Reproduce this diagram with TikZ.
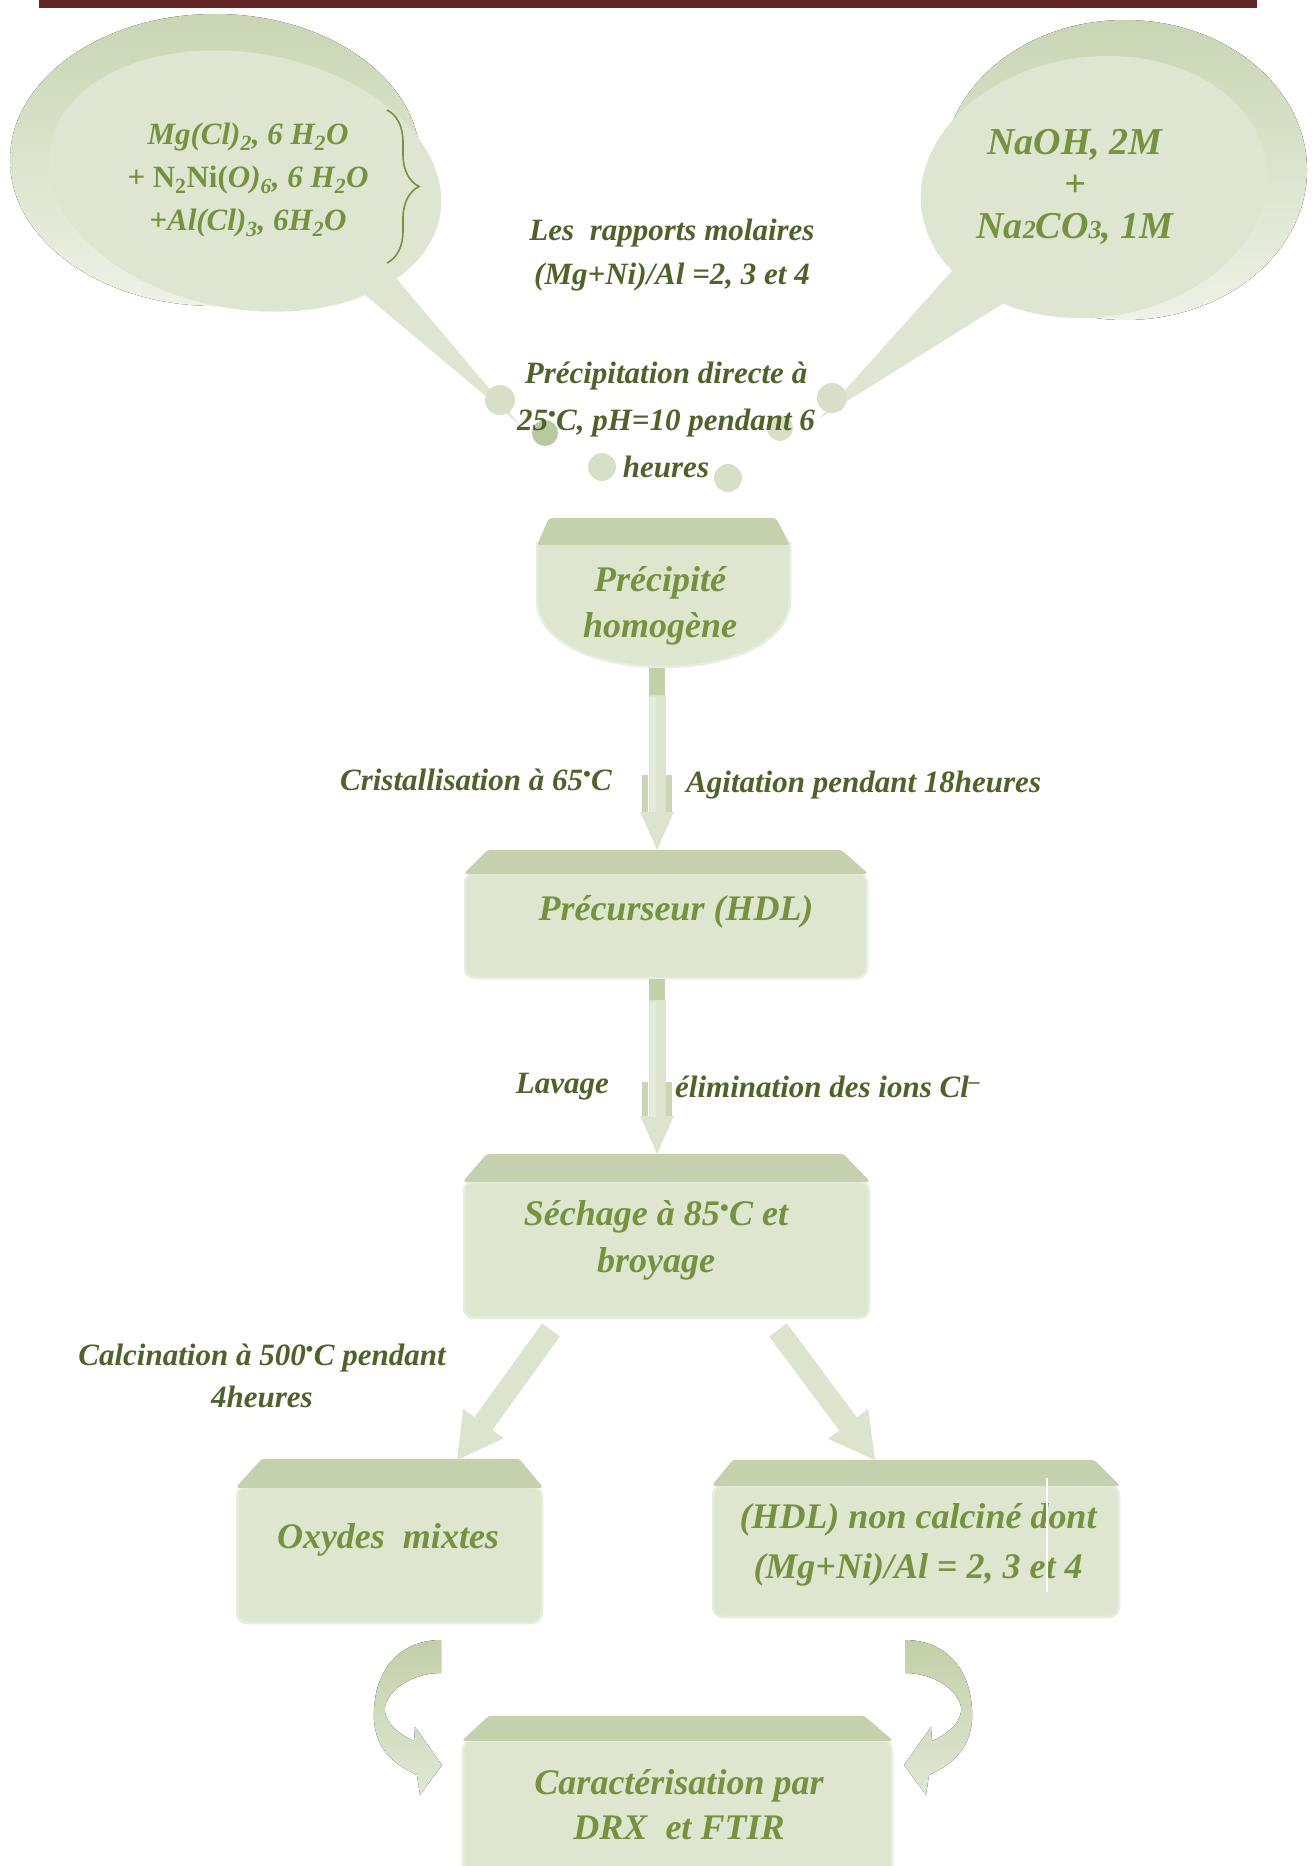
\documentclass[tikz,border=0pt]{standalone}
\usepackage{fontspec}
\setmainfont{Liberation Serif}
\usetikzlibrary{arrows.meta,decorations.pathreplacing,calc}
\definecolor{barc}{HTML}{632523}
\definecolor{gtext}{HTML}{76923C}
\definecolor{dtext}{HTML}{4F6228}
\definecolor{bodyc}{HTML}{DEE6D0}
\definecolor{rimc}{HTML}{E8EEDD}
\definecolor{bandc}{HTML}{C5D1AC}
\definecolor{shaftc}{HTML}{DCE4CD}
\definecolor{shaftlight}{HTML}{E6ECDC}
\definecolor{stemc}{HTML}{C4D0AA}
\definecolor{notchc}{HTML}{CAD6B3}
\definecolor{bubc}{HTML}{DEE6D1}
\definecolor{bubdark}{HTML}{C9D5B3}
\definecolor{bublight}{HTML}{EEF2E7}
\definecolor{dotc}{HTML}{D7E0C7}
\definecolor{dotdark}{HTML}{B8C89F}
\definecolor{curvetop}{HTML}{C3CFA8}
\definecolor{curvebot}{HTML}{E0E8D4}
\newcommand\gbandfor[4]{%
  \fill[gband] ([xshift=#2,yshift=#4]#1.north west) -- ([xshift=-#3,yshift=#4]#1.north east)
    -- ([yshift=-2pt]#1.north east) -- ([yshift=-2pt]#1.north west) -- cycle;}
\begin{document}
\begin{tikzpicture}[x=1pt,y=-1pt,
  gbody/.style={fill=bodyc, draw=rimc, line width=2.5pt, rounded corners=10pt, inner sep=0pt},
  gband/.style={fill=bandc, rounded corners=3pt},
  boxtext/.style={text=gtext, font=\fontsize{36}{47}\selectfont\bfseries\itshape, align=center, inner sep=0pt},
  lbl/.style={text=dtext, font=\fontsize{31}{44}\selectfont\bfseries\itshape, align=center, inner sep=0pt},
  vshaft/.style={draw=shaftc, line width=17pt, -{Triangle[width=34pt,length=38pt,line width=0pt]}},
  dshaft/.style={draw=shaftc, line width=22pt, -{Triangle[width=50pt,length=45pt,line width=0pt]}},
  curvearrow/.style={top color=curvetop, bottom color=curvebot}
]
\useasboundingbox (0,0) rectangle (1312,1866);
% top bar
\fill[barc] (39,0) rectangle (1257,8);

% ---------- left bubble ----------
\fill[top color=bubdark, bottom color=bublight] (215,160) ellipse [x radius=205pt, y radius=146pt];
\fill[bubc] (391,272) -- (520,425) -- (358,289) -- cycle;
\fill[bubc, rotate around={-10:(245,181)}] (245,181) ellipse [x radius=198pt, y radius=128pt];
\node[text=gtext, font=\fontsize{31}{43}\selectfont\bfseries\itshape, align=center, inner sep=0pt] (reag) at (248,180)
  {Mg(Cl)\textsubscript{2}, 6 H\textsubscript{2}O\\
   + \textup{N\textsubscript{2}Ni(}O)\textsubscript{6}, 6 H\textsubscript{2}O\\
   +Al(Cl)\textsubscript{3}, 6H\textsubscript{2}O};
\draw[gtext, line width=1.6pt, decorate, decoration={brace, amplitude=32pt, aspect=0.5}] (387,110) -- (387,263);

% ---------- right bubble ----------
\fill[top color=bubdark, bottom color=bublight] (1125,170) ellipse [x radius=182pt, y radius=150pt];
\fill[bubc] (960,262) -- (820,418) -- (1012,298) -- cycle;
\fill[bubc, rotate around={8:(1094,187)}] (1094,187) ellipse [x radius=174pt, y radius=130pt];
\node[text=gtext, font=\fontsize{38}{42}\selectfont\bfseries\itshape, align=center, inner sep=0pt] (base) at (1075,187)
  {NaOH, 2M\\+\\Na{\fontsize{26}{26}\selectfont 2}CO{\fontsize{26}{26}\selectfont 3}, 1M};

% ---------- small bubbles ----------
\fill[dotc] (500,400) circle[radius=15pt];
\fill[dotdark] (545,433) circle[radius=13pt];
\fill[dotc] (602,467) circle[radius=14pt];
\fill[dotc] (728,478) circle[radius=14pt];
\fill[dotc] (780,428) circle[radius=13pt];
\fill[dotc] (832,398) circle[radius=15pt];

\node[lbl] (ratio) at (672,255) {Les~ rapports molaires\\(Mg+Ni)/Al =2, 3 et 4};
\node[lbl, font=\fontsize{31}{47}\selectfont\bfseries\itshape] (precipl) at (666,420)
  {Précipitation directe à\\25\textsuperscript{•}C, pH=10 pendant 6\\heures};

% ---------- Précipité homogène ----------
\fill[bodyc, draw=rimc, line width=2.5pt] (537,543) -- (790,543) -- (790,600)
  .. controls (790,642) and (730,667) .. (663,667) .. controls (596,667) and (537,642) .. (537,600) -- cycle;
\fill[gband] (549,518) -- (776,518) -- (790,545) -- (537,545) -- cycle;
\fill[stemc] (649,668) rectangle (665,695);
\node[boxtext, font=\fontsize{36}{46}\selectfont\bfseries\itshape] (precip) at (660,606) {Précipité\\homogène};

% ---------- Précurseur ----------
\node[gbody, minimum width=402pt, minimum height=105pt] (precur) at (666,925.5) {};
\gbandfor{precur}{24pt}{27pt}{22pt}
\node[boxtext] (precurT) at (676,912) {Précurseur (HDL)};
\coordinate (precurtop) at ([yshift=22pt]precur.north);

% arrow 1
\coordinate (stem1) at (657,695);
\fill[notchc] (642,775) rectangle (648,812);
\fill[notchc] (666,775) rectangle (672,812);
\draw[vshaft] (stem1) -- (stem1 |- precurtop);
\fill[shaftlight] (650,697) rectangle (656,812);
\node[lbl, anchor=east] (cristal) at (612,780) {Cristallisation à 65\textsuperscript{•}C};
\node[lbl, anchor=west] (agit) at (686,785) {Agitation pendant 18heures};

% ---------- Séchage ----------
\node[gbody, minimum width=405pt, minimum height=137pt] (sech) at (666.5,1249.5) {};
\gbandfor{sech}{24pt}{27pt}{26pt}
\node[boxtext] (sechT) at (656,1240) {Séchage à 85\textsuperscript{•}C et\\broyage};
\coordinate (sechtop) at ([yshift=26pt]sech.north);

% arrow 2
\fill[stemc] (649,979) rectangle (665,1000);
\coordinate (stem2) at (657,1000);
\fill[notchc] (642,1082) rectangle (648,1117);
\fill[notchc] (666,1082) rectangle (672,1117);
\draw[vshaft] (stem2) -- (stem2 |- sechtop);
\fill[shaftlight] (650,1002) rectangle (656,1117);
\node[lbl, anchor=east] (lavage) at (609,1087) {Lavage};
\node[lbl, anchor=west] (elim) at (675,1087) {élimination des ions Cl\textsuperscript{–}};

% ---------- Oxydes mixtes ----------
\node[gbody, minimum width=305pt, minimum height=136pt] (oxy) at (389.5,1555) {};
\gbandfor{oxy}{26pt}{24pt}{27pt}
\node[boxtext] (oxyT) at (388,1540) {Oxydes~ mixtes};

% ---------- HDL non calciné ----------
\node[gbody, minimum width=406pt, minimum height=132pt] (hdl) at (916,1551) {};
\gbandfor{hdl}{21pt}{26pt}{24pt}
\node[boxtext, font=\fontsize{36}{50}\selectfont\bfseries\itshape] (hdlT) at (918,1545) {(HDL) non calciné dont\\(Mg+Ni)/Al = 2, 3 et 4};
\draw[white, line width=1.5pt] (1047,1478) -- (1047,1592);

% diagonal arrows
\coordinate (dl1) at (551,1330);
\coordinate (dl2) at (457,1460);
\coordinate (dr1) at (778,1330);
\coordinate (dr2) at (875,1460);
\draw[dshaft] (dl1) -- (dl2);
\draw[dshaft] (dr1) -- (dr2);
\node[lbl, font=\fontsize{31}{42}\selectfont\bfseries\itshape] (calc) at (262,1376) {Calcination à 500\textsuperscript{•}C pendant\\4heures};

% ---------- Caractérisation ----------
\node[gbody, minimum width=429pt, minimum height=140pt] (car) at (677.5,1810) {};
\gbandfor{car}{27pt}{29pt}{23pt}
\node[boxtext, font=\fontsize{36}{45}\selectfont\bfseries\itshape] (carT) at (679,1805) {Caractérisation par\\DRX~ et FTIR};

% curved arrows
\fill[curvearrow] (441,1640) .. controls (400,1640) and (372,1670) .. (374,1720)
  .. controls (376,1750) and (395,1765) .. (417,1775) -- (420,1795) -- (442,1765) -- (415,1727) -- (414,1741)
  .. controls (396,1733) and (383,1720) .. (385,1707) .. controls (388,1690) and (412,1673) .. (441,1673) -- cycle;
\begin{scope}[xshift=1346pt, xscale=-1]
\fill[curvearrow] (441,1640) .. controls (400,1640) and (372,1670) .. (374,1720)
  .. controls (376,1750) and (395,1765) .. (417,1775) -- (420,1795) -- (442,1765) -- (415,1727) -- (414,1741)
  .. controls (396,1733) and (383,1720) .. (385,1707) .. controls (388,1690) and (412,1673) .. (441,1673) -- cycle;
\end{scope}
\end{tikzpicture}
\end{document}
